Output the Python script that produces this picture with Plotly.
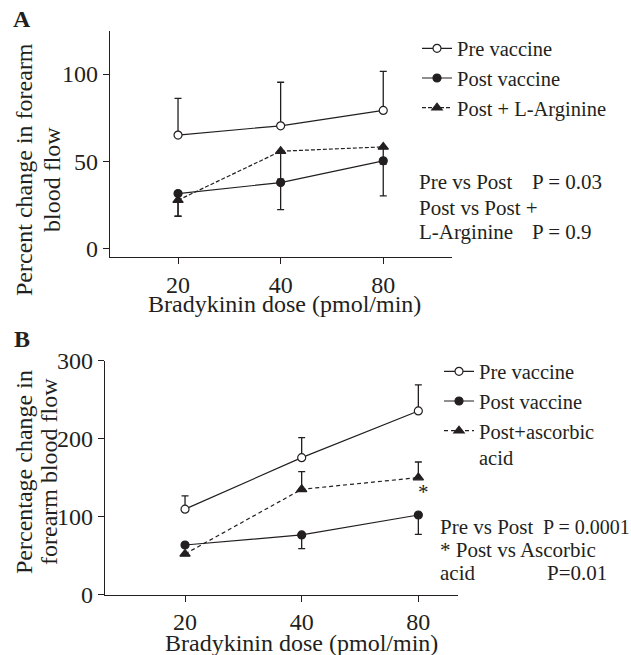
import plotly.graph_objects as go

# ---------------- data ----------------
doses = ["20", "40", "80"]

# Panel A
pre_a = [65, 70.3, 79.1]
pre_a_err = [21, 25, 22.4]
post_a = [31.4, 37.7, 50.2]
post_a_err = [13, 15.5, 20.1]
arg_a = [27.6, 55.7, 58.2]
arg_a_err = [9.2, 16, 9.9]

# Panel B
pre_b = [109.5, 175.6, 235.5]
pre_b_err = [17, 25.7, 33.4]
post_b = [63.5, 76.4, 102]
post_b_err = [0, 17.6, 24.8]
asc_b = [52, 135, 150]
asc_b_err = [0, 22.6, 20]

yticks_a = [0, 50, 100]
yticks_b = [0, 100, 200, 300]

W, H = 631, 655
FONT = "Liberation Serif, Times New Roman, serif"
INK = "#231f20"


def px(x):
    return x / W


def py(y):
    return 1 - y / H


fig = go.Figure()


def add_series(x, y, err, up, name, symbol, fill, dash, xa, ya, legend, show):
    zeros = [0] * len(err)
    fig.add_trace(go.Scatter(
        x=x, y=y, name=name, mode="lines+markers",
        xaxis=xa, yaxis=ya, legend=legend, showlegend=show,
        line=dict(color=INK, width=1.2, dash=dash),
        marker=dict(symbol=symbol, size=8 if symbol != "triangle-up" else 9,
                    color=fill, line=dict(color=INK, width=1.2)),
        error_y=dict(type="data", symmetric=False,
                     array=err if up else zeros,
                     arrayminus=zeros if up else err,
                     color=INK, thickness=1.3, width=3.5),
    ))


# Panel A traces
add_series(doses, pre_a, pre_a_err, True, "Pre vaccine", "circle", "white", "solid", "x", "y", "legend", True)
add_series(doses, post_a, post_a_err, False, "Post vaccine", "circle", INK, "solid", "x", "y", "legend", True)
add_series(doses, arg_a, arg_a_err, False, "Post + L-Arginine", "triangle-up", INK, "4px,2px", "x", "y", "legend", True)

# Panel B traces
add_series(doses, pre_b, pre_b_err, True, "Pre vaccine", "circle", "white", "solid", "x2", "y2", "legend2", True)
add_series(doses, post_b, post_b_err, False, "Post vaccine", "circle", INK, "solid", "x2", "y2", "legend2", True)
add_series(doses, asc_b, asc_b_err, True, "Post+ascorbic<br>acid", "triangle-up", INK, "4px,3px", "x2", "y2", "legend2", True)

axis_style = dict(
    showline=True, linecolor=INK, linewidth=1.2,
    ticks="outside", ticklen=6, tickwidth=1.2, tickcolor=INK,
    tickfont=dict(family=FONT, size=24, color=INK),
    showgrid=False, zeroline=False, automargin=False,
)

fig.update_layout(
    width=W, height=H,
    margin=dict(l=0, r=0, t=0, b=0, pad=0, autoexpand=False),
    paper_bgcolor="white", plot_bgcolor="white",
    font=dict(family=FONT, color=INK),
    xaxis=dict(domain=[px(110), px(452)], anchor="y", type="category",
               range=[-0.663, 2.67], **axis_style),
    yaxis=dict(domain=[py(257), py(31)], anchor="x", range=[-5, 124.7],
               tickvals=yticks_a, **axis_style),
    xaxis2=dict(domain=[px(105), px(458)], anchor="y2", type="category",
                range=[-0.686, 2.34], **axis_style),
    yaxis2=dict(domain=[py(594.5), py(360.7)], anchor="x2", range=[0, 300],
                tickvals=yticks_b, **axis_style),
    legend=dict(x=px(417), y=py(28.5), xanchor="left", yanchor="top",
                bgcolor="rgba(0,0,0,0)", borderwidth=0,
                font=dict(family=FONT, size=20.5, color=INK),
                traceorder="normal", itemclick=False),
    legend2=dict(x=px(439), y=py(351.5), xanchor="left", yanchor="top",
                 bgcolor="rgba(0,0,0,0)", borderwidth=0, valign="top",
                 font=dict(family=FONT, size=20.5, color=INK),
                 traceorder="normal", itemclick=False),
)

anns = []


def text(t, x, y, size=21, xanchor="left", angle=0, bold=False):
    anns.append(dict(
        text=("<b>%s</b>" % t) if bold else t,
        x=px(x), y=py(y), xref="paper", yref="paper",
        xanchor=xanchor, yanchor="middle", showarrow=False,
        textangle=angle,
        font=dict(family=FONT, size=size, color=INK),
    ))


# panel labels
text("A", 22, 19, size=24, xanchor="center", bold=True)
text("B", 22, 338.5, size=24, xanchor="center", bold=True)

# axis titles
text("Bradykinin dose (pmol/min)", 284, 304, size=24, xanchor="center")
text("Bradykinin dose (pmol/min)", 301, 642.5, size=24, xanchor="center")
text("Percent change in forearm", 24, 170, size=24, xanchor="center", angle=-90)
text("blood flow", 52, 180, size=24, xanchor="center", angle=-90)
text("Percentage change in", 24, 472, size=24, xanchor="center", angle=-90)
text("forearm blood flow", 49, 472, size=24, xanchor="center", angle=-90)

# statistics panel A
text("Pre vs Post", 417, 182)
text("P = 0.03", 530, 182)
text("Post vs Post +", 417, 208)
text("L-Arginine", 417, 232)
text("P = 0.9", 530, 232)

# statistics panel B
text("Pre vs Post", 438, 527)
text("P = 0.0001", 541, 527, size=20)
text("* Post vs Ascorbic", 438, 550)
text("acid", 438, 573)
text("P=0.01", 545, 573)

# asterisk on ascorbic 80 point (category index 2 = "80")
anns.append(dict(text="*", x=doses.index("80"), y=131, xref="x2", yref="y2",
                 xanchor="center", yanchor="middle", xshift=5, showarrow=False,
                 font=dict(family=FONT, size=21, color=INK)))

fig.update_layout(annotations=anns)

fig.write_html("out.html")
